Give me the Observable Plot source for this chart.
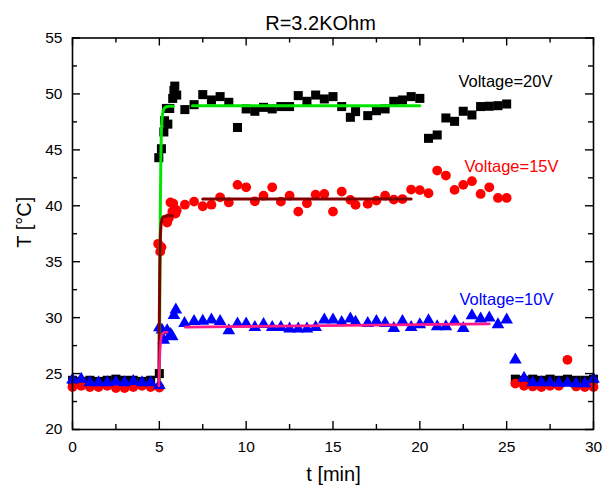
<!DOCTYPE html>
<html>
<head>
<meta charset="utf-8">
<script src="https://cdn.jsdelivr.net/npm/d3@7"></script>
<script src="https://cdn.jsdelivr.net/npm/@observablehq/plot@0.6"></script>
<style>
  html, body { margin: 0; padding: 0; background: white; }
</style>
</head>
<body>
<div id="chart"></div>
<script>
// ---- Data ----
const title = "R=3.2KOhm";
const xLabel = "t [min]";
const yLabel = "T [°C]";

const majorX = [0, 5, 10, 15, 20, 25, 30];
const minorX = [2.5, 7.5, 12.5, 17.5, 22.5, 27.5];
const majorY = [20, 25, 30, 35, 40, 45, 50, 55];
const minorY = [22.5, 27.5, 32.5, 37.5, 42.5, 47.5, 52.5];

// Voltage = 20V (black squares)
const t20 = [0, 0.5, 1, 1.5, 2, 2.5, 3, 3.5, 4, 4.5, 5.0,
  4.97, 5.12, 5.26, 5.3, 5.41, 5.49, 5.6, 5.77, 5.84, 5.89, 6.0, 6.47,
  7, 7.5, 8, 8.5, 9, 9.5, 10, 10.5, 11, 11.5, 12, 12.5, 13, 13.5, 14, 14.5, 15, 15.5, 16, 16.3,
  17, 17.5, 18, 18.5, 19, 19.5, 20, 20.5, 21, 21.5, 22, 22.5, 23, 23.5, 24, 24.5, 25,
  25.5, 26, 26.5, 27, 27.5, 28, 28.5, 29, 29.5, 30];
const v20 = [24.4, 24.3, 24.4, 24.3, 24.4, 24.5, 24.4, 24.4, 24.3, 24.4, 25.0,
  44.3, 45.1, 46.6, 47.6, 48.7, 47.3, 48.7, 49.6, 50.3, 50.7, 49.9, 48.6,
  49.04, 49.94, 49.46, 49.76, 49.25, 47.0, 48.66, 48.45, 48.8, 48.66, 48.87, 48.87, 49.85, 49.34, 49.9, 49.55, 49.76, 48.87, 47.91, 48.42,
  48.06, 48.5, 48.66, 49.34, 49.46, 49.76, 49.6, 46.03, 46.33, 47.85, 47.55, 48.45, 48.12, 48.87, 48.9, 48.95, 49.1,
  24.5, 24.4, 24.5, 24.4, 24.5, 24.4, 24.5, 24.4, 24.4, 24.5];

// Voltage = 15V (red circles)
const t15 = [0, 0.5, 1, 1.5, 2, 2.5, 3, 3.5, 4, 4.5, 5.0,
  4.93, 5.05, 5.12, 5.45, 5.55, 5.64, 5.75, 5.8, 5.93, 6.0, 6.47,
  7, 7.5, 8, 8.5, 9, 9.5, 10, 10.5, 11, 11.5, 12, 12.5, 13, 13.5, 14, 14.5, 15, 15.5, 16, 16.3,
  17, 17.5, 18, 18.5, 19, 19.5, 20, 20.5, 21, 21.5, 22, 22.5, 23, 23.5, 24, 24.5, 25,
  25.5, 26, 26.5, 27, 27.5, 28, 28.5, 29, 29.5, 30];
const v15 = [23.8, 23.9, 23.8, 23.8, 23.9, 23.7, 23.7, 23.8, 23.9, 23.8, 23.75,
  36.6, 35.9, 36.3, 38.5, 38.9, 40.3, 39.5, 40.2, 39.3, 39.6, 40.1,
  40.37, 39.96, 40.1, 40.76, 40.3, 41.87, 41.65, 40.4, 40.9, 41.65, 40.37, 40.9, 39.48, 40.22, 41.0, 41.06, 39.48, 41.27, 40.53, 40.08,
  40.17, 40.47, 40.9, 40.55, 40.6, 41.45, 41.4, 41.12, 43.15, 42.7, 41.42, 41.87, 42.2, 41.06, 41.65, 40.7, 40.7,
  24.1, 23.9, 23.85, 23.8, 23.9, 23.9, 26.23, 23.85, 23.8, 23.8];

// Voltage = 10V (blue triangles)
const t10 = [0, 0.5, 1, 1.5, 2, 2.5, 3, 3.5, 4, 4.5, 5.0,
  5.0, 5.15, 5.25, 5.45, 5.65, 5.74, 5.84, 5.95, 6.45,
  7, 7.5, 8, 8.5, 9, 9.5, 10, 10.5, 11, 11.5, 12, 12.5, 13, 13.5, 14, 14.5, 15, 15.5, 16, 16.3,
  17, 17.5, 18, 18.5, 19, 19.5, 20, 20.5, 21, 21.5, 22, 22.5, 23, 23.5, 24, 24.5, 25,
  25.5, 26, 26.5, 27, 27.5, 28, 28.5, 29, 29.5, 30];
const v10 = [24.45, 24.5, 24.2, 24.2, 24.2, 24.25, 24.2, 24.3, 24.2, 24.2, 23.95,
  29.1, 28.9, 28.0, 28.85, 28.5, 28.3, 30.2, 30.7, 29.5,
  29.68, 29.7, 29.8, 29.68, 28.85, 29.44, 29.44, 29.14, 29.4, 29.14, 29.14, 29.0, 29.0, 29.0, 29.14, 29.8, 29.8, 29.59, 29.9, 29.6,
  29.5, 29.68, 29.5, 29.05, 29.68, 29.14, 29.38, 29.74, 29.2, 29.2, 29.68, 29.05, 30.19, 29.9, 29.98, 29.38, 29.8,
  26.23, 24.6, 24.2, 24.2, 24.2, 24.15, 24.15, 24.1, 24.1, 24.5];

// Fit curves (rise) and plateau fits
const riseT20 = [5.0, 5.03, 5.06, 5.09, 5.12, 5.16, 5.22, 5.3, 5.4, 5.55, 5.8];
const riseV20 = [24.4, 33.0, 40.0, 44.5, 46.8, 47.9, 48.5, 48.75, 48.85, 48.9, 48.9];
const riseT15 = [4.97, 5.0, 5.03, 5.06, 5.1, 5.15, 5.22, 5.3, 5.45, 5.75];
const riseV15 = [23.9, 30.0, 35.0, 37.3, 38.4, 38.8, 39.0, 39.05, 39.1, 39.1];
const riseT10 = [4.97, 5.0, 5.04, 5.08, 5.13, 5.2, 5.3, 5.45];
const riseV10 = [23.9, 25.5, 27.0, 27.9, 28.4, 28.6, 28.7, 28.7];
const plateauT20 = [6.9, 20.0];
const plateauV20 = [48.95, 48.95];
const plateauT15 = [7.5, 19.5];
const plateauV15 = [40.6, 40.6];
const plateauT10 = [6.5, 24.0];
const plateauV10 = [29.15, 29.45];

const labels = ["Voltage=20V", "Voltage=15V", "Voltage=10V"];

// ---- Chart ----
const W = 602, H = 488, mL = 72, mR = 9, mT = 37.5, mB = 59;
const frameH = H - mT - mB, frameW = W - mL - mR;
const font = "'Liberation Sans', Arial, Helvetica, sans-serif";
const green = "#00e600", wine = "#800000", pink = "#ff1a8c";

const chart = Plot.plot({
  width: W, height: H,
  marginLeft: mL, marginRight: mR, marginTop: mT, marginBottom: mB,
  x: {domain: [0, 30]},
  y: {domain: [20, 55]},
  style: {fontFamily: font, fontSize: "15.5px", color: "black", background: "white", overflow: "visible"},
  marks: [
    // data markers
    Plot.dot(t20, {x: t20, y: v20, symbol: "square", r: 5.1, fill: "black", stroke: "none"}),
    Plot.dot(t15, {x: t15, y: v15, symbol: "circle", r: 4.9, fill: "#ff0000", stroke: "none"}),
    Plot.dot(t10, {x: t10, y: v10, symbol: "triangle", r: 4.7, fill: "#0000ff", stroke: "none"}),
    // fits
    Plot.line(riseT20, {x: riseT20, y: riseV20, stroke: green, strokeWidth: 3}),
    Plot.line(riseT15, {x: riseT15, y: riseV15, stroke: wine, strokeWidth: 3}),
    Plot.line(riseT10, {x: riseT10, y: riseV10, stroke: pink, strokeWidth: 2.5}),
    Plot.line(plateauT20, {x: plateauT20, y: plateauV20, stroke: green, strokeWidth: 3}),
    Plot.line(plateauT15, {x: plateauT15, y: plateauV15, stroke: wine, strokeWidth: 3}),
    Plot.line(plateauT10, {x: plateauT10, y: plateauV10, stroke: pink, strokeWidth: 2.8}),
    // frame
    Plot.frame({stroke: "black", strokeWidth: 1.6}),
    // inward ticks: bottom, top, left, right
    Plot.tickX(majorX, {x: d => d, insetTop: frameH - 8, stroke: "black", strokeWidth: 1.4}),
    Plot.tickX(minorX, {x: d => d, insetTop: frameH - 5, stroke: "black", strokeWidth: 1.4}),
    Plot.tickX(majorX, {x: d => d, insetBottom: frameH - 8, stroke: "black", strokeWidth: 1.4}),
    Plot.tickX(minorX, {x: d => d, insetBottom: frameH - 5, stroke: "black", strokeWidth: 1.4}),
    Plot.tickY(majorY, {y: d => d, insetRight: frameW - 8, stroke: "black", strokeWidth: 1.4}),
    Plot.tickY(minorY, {y: d => d, insetRight: frameW - 5, stroke: "black", strokeWidth: 1.4}),
    Plot.tickY(majorY, {y: d => d, insetLeft: frameW - 8, stroke: "black", strokeWidth: 1.4}),
    Plot.tickY(minorY, {y: d => d, insetLeft: frameW - 5, stroke: "black", strokeWidth: 1.4}),
    // tick labels
    Plot.axisX(majorX, {tickSize: 0, tickPadding: 11, label: null, fontSize: 15.5}),
    Plot.axisY(majorY, {tickSize: 0, tickPadding: 10, label: null, fontSize: 15.5}),
    // axis titles
    Plot.text([xLabel], {frameAnchor: "bottom", text: d => d, dy: 45, dx: 0.5, lineAnchor: "middle", fontSize: 20}),
    Plot.text([yLabel], {frameAnchor: "left", text: d => d, dx: -48, dy: 14, rotate: -90, lineAnchor: "middle", fontSize: 20}),
    // title
    Plot.text([title], {frameAnchor: "top", text: d => d, dx: -12.5, dy: -14.5, lineAnchor: "middle", fontSize: 20}),
    // series labels
    Plot.text([labels[0]], {x: 22.22, y: 51.07, text: d => d, textAnchor: "start", lineAnchor: "middle", fontSize: 16.5, fill: "black"}),
    Plot.text([labels[1]], {x: 22.57, y: 43.5, text: d => d, textAnchor: "start", lineAnchor: "middle", fontSize: 16.5, fill: "#ff0000"}),
    Plot.text([labels[2]], {x: 22.28, y: 31.62, text: d => d, textAnchor: "start", lineAnchor: "middle", fontSize: 16.5, fill: "#0000ff"})
  ]
});
document.getElementById("chart").appendChild(chart);
</script>
</body>
</html>
